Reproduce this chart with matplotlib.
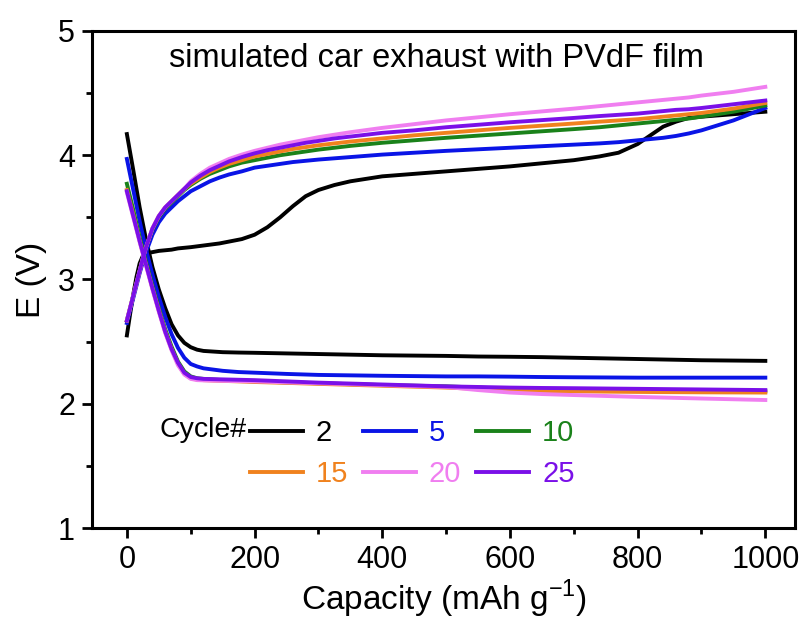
import matplotlib
matplotlib.use("Agg")
import matplotlib.pyplot as plt
from matplotlib.ticker import MultipleLocator

plt.rcParams['font.family'] = ['Liberation Sans', 'DejaVu Sans']
plt.rcParams['mathtext.fontset'] = 'custom'
plt.rcParams['mathtext.rm'] = 'Liberation Sans'

cycles = ['2', '5', '10', '15', '20', '25']
colors = ['#000000', '#0a14e6', '#1a821a', '#f0821e', '#f07ef0', '#7a10e8']

# charge (rising) curves
x_charge = [0, 5, 10, 15, 20, 25, 30, 40, 50, 60, 70, 80, 90, 100, 115, 130, 145, 160, 180, 200,
            220, 240, 260, 280, 300, 325, 350, 400, 450, 500, 600, 700, 740, 770, 800, 820,
            840, 860, 880, 900, 950, 1000]
charge = {
    '2':  [2.55, 2.72, 2.88, 3.02, 3.13, 3.19, 3.21, 3.22, 3.23, 3.235, 3.24, 3.25, 3.255, 3.26,
           3.27, 3.28, 3.29, 3.305, 3.325, 3.36, 3.42, 3.50, 3.59, 3.67, 3.72, 3.76, 3.79, 3.83,
           3.85, 3.87, 3.91, 3.96, 3.99, 4.02, 4.09, 4.16, 4.23, 4.27, 4.30, 4.31, 4.33, 4.35],
    '5':  [2.65, 2.75, 2.85, 2.95, 3.05, 3.14, 3.22, 3.36, 3.46, 3.53, 3.58, 3.63, 3.67, 3.71,
           3.75, 3.79, 3.82, 3.845, 3.87, 3.90, 3.915, 3.93, 3.945, 3.955, 3.965, 3.975, 3.985,
           4.005, 4.02, 4.035, 4.06, 4.085, 4.095, 4.105, 4.12, 4.13, 4.14, 4.155, 4.175, 4.20,
           4.28, 4.38],
    '10': [2.67, 2.77, 2.87, 2.97, 3.07, 3.17, 3.26, 3.40, 3.50, 3.57, 3.62, 3.67, 3.72, 3.76,
           3.81, 3.85, 3.88, 3.91, 3.94, 3.96, 3.98, 4.00, 4.015, 4.03, 4.045, 4.06, 4.075, 4.10,
           4.12, 4.14, 4.175, 4.21, 4.225, 4.24, 4.255, 4.265, 4.275, 4.285, 4.295, 4.31, 4.35,
           4.40],
    '15': [2.67, 2.77, 2.87, 2.97, 3.07, 3.17, 3.26, 3.41, 3.51, 3.58, 3.63, 3.68, 3.73, 3.77,
           3.82, 3.865, 3.90, 3.93, 3.96, 3.99, 4.01, 4.03, 4.05, 4.065, 4.08, 4.095, 4.11, 4.135,
           4.16, 4.18, 4.22, 4.255, 4.27, 4.28, 4.29, 4.30, 4.31, 4.32, 4.33, 4.34, 4.375, 4.42],
    '20': [2.67, 2.77, 2.87, 2.97, 3.07, 3.17, 3.26, 3.41, 3.51, 3.58, 3.63, 3.68, 3.73, 3.79,
           3.85, 3.90, 3.935, 3.97, 4.005, 4.035, 4.06, 4.085, 4.105, 4.125, 4.145, 4.165, 4.185,
           4.22, 4.25, 4.28, 4.33, 4.375, 4.395, 4.41, 4.425, 4.435, 4.445, 4.455, 4.465, 4.48,
           4.51, 4.55],
    '25': [2.67, 2.77, 2.87, 2.97, 3.07, 3.17, 3.26, 3.41, 3.51, 3.58, 3.63, 3.68, 3.73, 3.78,
           3.835, 3.88, 3.915, 3.95, 3.985, 4.015, 4.04, 4.06, 4.08, 4.10, 4.115, 4.135, 4.15,
           4.18, 4.20, 4.225, 4.265, 4.30, 4.315, 4.325, 4.335, 4.345, 4.355, 4.365, 4.37, 4.38,
           4.41, 4.44],
}

# discharge (falling) curves
x_discharge = [0, 10, 20, 30, 40, 50, 60, 70, 80, 90, 100, 110, 120, 135, 150, 175, 200, 250,
               300, 400, 500, 550, 600, 650, 700, 800, 900, 1000]
discharge = {
    '2':  [4.17, 3.88, 3.58, 3.32, 3.10, 2.92, 2.77, 2.64, 2.55, 2.49, 2.455, 2.435, 2.425, 2.42,
           2.415, 2.412, 2.41, 2.405, 2.40, 2.39, 2.385, 2.38, 2.378, 2.375, 2.37, 2.36, 2.35, 2.345],
    '5':  [3.97, 3.72, 3.47, 3.24, 3.04, 2.86, 2.70, 2.56, 2.45, 2.37, 2.32, 2.30, 2.285, 2.275,
           2.265, 2.255, 2.25, 2.24, 2.232, 2.225, 2.22, 2.22, 2.218, 2.215, 2.213, 2.21, 2.21, 2.21],
    '10': [3.77, 3.56, 3.34, 3.14, 2.95, 2.77, 2.60, 2.46, 2.34, 2.26, 2.22, 2.205, 2.20, 2.195,
           2.19, 2.185, 2.18, 2.172, 2.165, 2.15, 2.14, 2.13, 2.12, 2.115, 2.112, 2.108, 2.104, 2.10],
    '15': [3.72, 3.52, 3.31, 3.12, 2.93, 2.75, 2.58, 2.44, 2.32, 2.24, 2.205, 2.195, 2.19, 2.187,
           2.184, 2.18, 2.175, 2.168, 2.16, 2.145, 2.13, 2.12, 2.11, 2.103, 2.10, 2.095, 2.092, 2.09],
    '20': [3.70, 3.50, 3.30, 3.11, 2.92, 2.74, 2.57, 2.43, 2.31, 2.235, 2.20, 2.19, 2.188, 2.186,
           2.184, 2.182, 2.18, 2.172, 2.165, 2.15, 2.135, 2.11, 2.09, 2.078, 2.07, 2.055, 2.042, 2.03],
    '25': [3.71, 3.51, 3.31, 3.12, 2.93, 2.75, 2.58, 2.44, 2.33, 2.25, 2.215, 2.205, 2.20, 2.198,
           2.196, 2.193, 2.19, 2.18, 2.17, 2.155, 2.14, 2.135, 2.13, 2.127, 2.125, 2.12, 2.115, 2.11],
}

fig = plt.figure(figsize=(8.05, 6.19), dpi=100)
ax = fig.add_axes([0.114, 0.147, 0.874, 0.803])

handles = {}
for c, col in zip(cycles, colors):
    h, = ax.plot(x_charge, charge[c], color=col, lw=2.8, solid_joinstyle='round', label=c)
    ax.plot(x_discharge, discharge[c], color=col, lw=2.8, solid_joinstyle='round')
    handles[c] = h

ax.set_xlim(-55, 1047)
ax.set_ylim(1, 5)
ax.xaxis.set_major_locator(MultipleLocator(200))
ax.xaxis.set_minor_locator(MultipleLocator(100))
ax.yaxis.set_major_locator(MultipleLocator(1))
ax.yaxis.set_minor_locator(MultipleLocator(0.5))
ax.tick_params(which='major', direction='out', length=7, width=2, labelsize=22,
               top=False, right=False, pad=5)
ax.tick_params(which='minor', direction='out', length=4, width=2, top=False, right=False)
for s in ax.spines.values():
    s.set_linewidth(2.2)

ax.set_xlabel('Capacity (mAh g$^{-1}$)', fontsize=24, labelpad=2)
ax.set_ylabel('E (V)', fontsize=24, labelpad=8)

ax.text(0.49, 0.945, 'simulated car exhaust with PVdF film', transform=ax.transAxes,
        ha='center', va='center', fontsize=23.5)

ax.text(0.096, 0.197, 'Cycle#', transform=ax.transAxes, ha='left', va='center', fontsize=20.5)
order = ['2', '15', '5', '20', '10', '25']  # row-wise layout with 3 columns
leg = ax.legend(handles=[handles[c] for c in order], ncol=3, loc='upper left',
                bbox_to_anchor=(0.225, 0.219), frameon=False, fontsize=21,
                handlelength=1.8, handletextpad=0.45, columnspacing=0.52,
                labelspacing=0.45, borderpad=0, borderaxespad=0,
                labelcolor='linecolor')

fig.savefig('out.png', dpi=100)
